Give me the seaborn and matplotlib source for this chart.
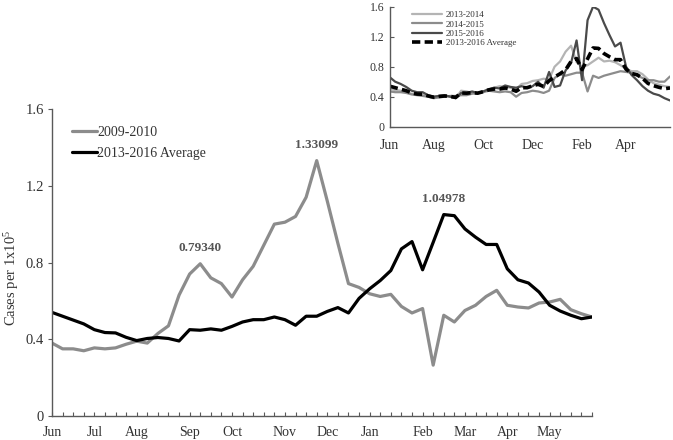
import numpy as np
import pandas as pd
import matplotlib
matplotlib.use("Agg")
import matplotlib.pyplot as plt
import seaborn as sns

# weekly values, June through May (52 weeks)
season_2009 = [0.38, 0.35, 0.35, 0.34, 0.355, 0.35, 0.355, 0.374, 0.39, 0.38,
               0.43, 0.47, 0.63, 0.74, 0.7934, 0.72, 0.69, 0.62, 0.71, 0.78,
               0.89, 1.00, 1.01, 1.04, 1.14, 1.33099, 1.12, 0.90, 0.69, 0.67,
               0.637, 0.623, 0.634, 0.571, 0.537, 0.56, 0.265, 0.525, 0.49, 0.55,
               0.577, 0.623, 0.655, 0.577, 0.568, 0.563, 0.589, 0.594, 0.608, 0.554,
               0.533, 0.516]
average_2013_2016 = [0.54, 0.52, 0.50, 0.48, 0.45, 0.435, 0.433, 0.41, 0.393, 0.404,
                     0.409, 0.404, 0.391, 0.45, 0.447, 0.454, 0.447, 0.467, 0.49, 0.502,
                     0.502, 0.516, 0.502, 0.473, 0.52, 0.52, 0.545, 0.565, 0.537, 0.613,
                     0.663, 0.706, 0.758, 0.871, 0.909, 0.762, 0.905, 1.04978, 1.044, 0.975,
                     0.932, 0.894, 0.894, 0.767, 0.71, 0.693, 0.646, 0.577, 0.547, 0.525,
                     0.507, 0.516]
season_2013 = [0.50, 0.49, 0.48, 0.46, 0.44, 0.43, 0.43, 0.41, 0.40, 0.41,
               0.41, 0.40, 0.38, 0.48, 0.47, 0.45, 0.44, 0.47, 0.49, 0.52,
               0.54, 0.53, 0.52, 0.50, 0.57, 0.58, 0.61, 0.62, 0.64, 0.63,
               0.80, 0.87, 1.00, 1.08, 0.86, 0.80, 0.82, 0.87, 0.92, 0.87,
               0.88, 0.86, 0.82, 0.77, 0.74, 0.74, 0.70, 0.63, 0.58, 0.56,
               0.54, 0.53]
season_2014 = [0.47, 0.46, 0.46, 0.45, 0.43, 0.42, 0.41, 0.40, 0.38, 0.39,
               0.40, 0.41, 0.41, 0.42, 0.42, 0.44, 0.45, 0.46, 0.48, 0.47,
               0.46, 0.47, 0.46, 0.40, 0.45, 0.46, 0.48, 0.47, 0.45, 0.48,
               0.65, 0.70, 0.68, 0.70, 0.72, 0.72, 0.47, 0.68, 0.65, 0.68,
               0.70, 0.72, 0.74, 0.73, 0.72, 0.68, 0.65, 0.62, 0.62, 0.60,
               0.60, 0.67]
season_2015 = [0.66, 0.60, 0.57, 0.53, 0.48, 0.46, 0.46, 0.42, 0.40, 0.41,
               0.42, 0.40, 0.38, 0.45, 0.45, 0.47, 0.45, 0.47, 0.50, 0.52,
               0.51, 0.55, 0.53, 0.52, 0.54, 0.52, 0.54, 0.60, 0.52, 0.73,
               0.53, 0.55, 0.75, 0.85, 1.15, 0.62, 1.42, 1.60, 1.56, 1.38,
               1.22, 1.07, 1.12, 0.80, 0.69, 0.62, 0.54, 0.48, 0.44, 0.42,
               0.38, 0.35]

month_labels = ["Jun", "Jul", "Aug", "Sep", "Oct", "Nov", "Dec", "Jan", "Feb", "Mar", "Apr", "May"]
month_weeks = [0, 4, 8, 13, 17, 22, 26, 30, 35, 39, 43, 47]
inset_labels = ["Jun", "Aug", "Oct", "Dec", "Feb", "Apr"]
inset_weeks = [0, 8, 17, 26, 35, 43]
peaks = [(14, "0.79340"), (25, "1.33099"), (37, "1.04978")]

sns.set_style("white")
plt.rcParams['font.family'] = ['Liberation Serif', 'DejaVu Serif']
plt.rcParams['mathtext.fontset'] = 'custom'
plt.rcParams['mathtext.rm'] = 'Liberation Serif'
plt.rcParams['mathtext.default'] = 'regular'

weeks = np.arange(len(season_2009))
W, H = 673, 440
fig = plt.figure(figsize=(W / 100, H / 100), dpi=100)

def px_axes(x0, x1, ytop, ybot):
    return fig.add_axes([x0 / W, 1 - ybot / H, (x1 - x0) / W, (ybot - ytop) / H])

# ---- main chart
ax = px_axes(52, 592, 109, 416)
main_df = pd.DataFrame({"week": weeks, "2009-2010": season_2009,
                        "2013-2016 Average": average_2013_2016})
sns.lineplot(data=main_df, x="week", y="2009-2010", color="#8c8c8c", linewidth=2.3,
             label="2009-2010", ax=ax)
sns.lineplot(data=main_df, x="week", y="2013-2016 Average", color="black", linewidth=2.3,
             label="2013-2016 Average", ax=ax)
ax.set_xlim(0, len(weeks) - 1)
ax.set_ylim(0, 1.6)
ax.set_yticks([0, 0.4, 0.8, 1.2, 1.6])
ax.set_yticklabels(["0", "0.4", "0.8", "1.2", "1.6"])
ax.set_xticks(weeks)
xl = [""] * len(weeks)
for w, m in zip(month_weeks, month_labels):
    xl[w] = m
ax.set_xticklabels(xl)
ax.tick_params(axis="x", direction="in", length=3, width=0.8, colors="#595959",
               labelcolor="#333333", labelsize=10, pad=7, bottom=True)
ax.tick_params(axis="y", direction="out", length=3, width=0.8, colors="#595959",
               labelcolor="#333333", labelsize=10.5, pad=3, left=True)
for s in ["top", "right"]:
    ax.spines[s].set_visible(False)
for s in ["left", "bottom"]:
    ax.spines[s].set_color("#595959")
    ax.spines[s].set_linewidth(1)
ax.set_xlabel("")
ax.set_ylabel("Cases per 1x10$^{5}$", fontsize=10.5, color="#333333")
ax.yaxis.set_label_coords(-0.058, 0.45)
for w, txt in peaks:
    v = season_2009[w] if txt != "1.04978" else average_2013_2016[w]
    ax.annotate(txt, (w, v), xytext=(0, 7), textcoords="offset points",
                ha="center", va="bottom", fontsize=9.5, fontweight="bold", color="#555555")
leg = ax.legend(loc="upper left", bbox_to_anchor=(0.037, 0.945), frameon=False,
                fontsize=10, handlelength=1.8, handletextpad=0.0, labelspacing=0.55,
                borderpad=0, borderaxespad=0)
for t in leg.get_texts():
    t.set_color("#333333")

# ---- inset chart
ins = px_axes(389.7, 670, 6.7, 126.7)
inset_df = pd.DataFrame({"week": weeks, "s13": season_2013, "s14": season_2014,
                         "s15": season_2015, "avg": average_2013_2016})
sns.lineplot(data=inset_df, x="week", y="s13", color="#b4b4b4", linewidth=1.6,
             label="2013-2014", ax=ins)
sns.lineplot(data=inset_df, x="week", y="s14", color="#8c8c8c", linewidth=1.6,
             label="2014-2015", ax=ins)
sns.lineplot(data=inset_df, x="week", y="s15", color="#4a4a4a", linewidth=1.6,
             label="2015-2016", ax=ins)
sns.lineplot(data=inset_df, x="week", y="avg", color="black", linewidth=2.6,
             label="2013-2016 Average", ax=ins, dashes=False)
ins.lines[-1].set_dashes((2.3, 1.2))
ins.set_xlim(0, len(weeks) - 1)
ins.set_ylim(0, 1.6)
ins.set_yticks([0, 0.4, 0.8, 1.2, 1.6])
ins.set_yticklabels(["0", "0.4", "0.8", "1.2", "1.6"])
ins.set_xticks(inset_weeks)
ins.set_xticklabels(inset_labels)
ins.tick_params(axis="x", length=0, labelcolor="#333333", labelsize=10, pad=9)
ins.tick_params(axis="y", direction="in", length=3, width=0.8, colors="#595959",
                labelcolor="#333333", labelsize=8.5, pad=4, left=True)
for s in ["top", "right"]:
    ins.spines[s].set_visible(False)
for s in ["left", "bottom"]:
    ins.spines[s].set_color("#595959")
    ins.spines[s].set_linewidth(1)
ins.set_xlabel("")
ins.set_ylabel("")
ileg = ins.legend(loc="upper left", bbox_to_anchor=(0.079, 0.965), frameon=False,
                  fontsize=6.5, handlelength=3.3, handletextpad=0.5, labelspacing=0.12,
                  borderpad=0, borderaxespad=0)
for t in ileg.get_texts():
    t.set_color("#333333")

fig.savefig("out.png", dpi=100)
